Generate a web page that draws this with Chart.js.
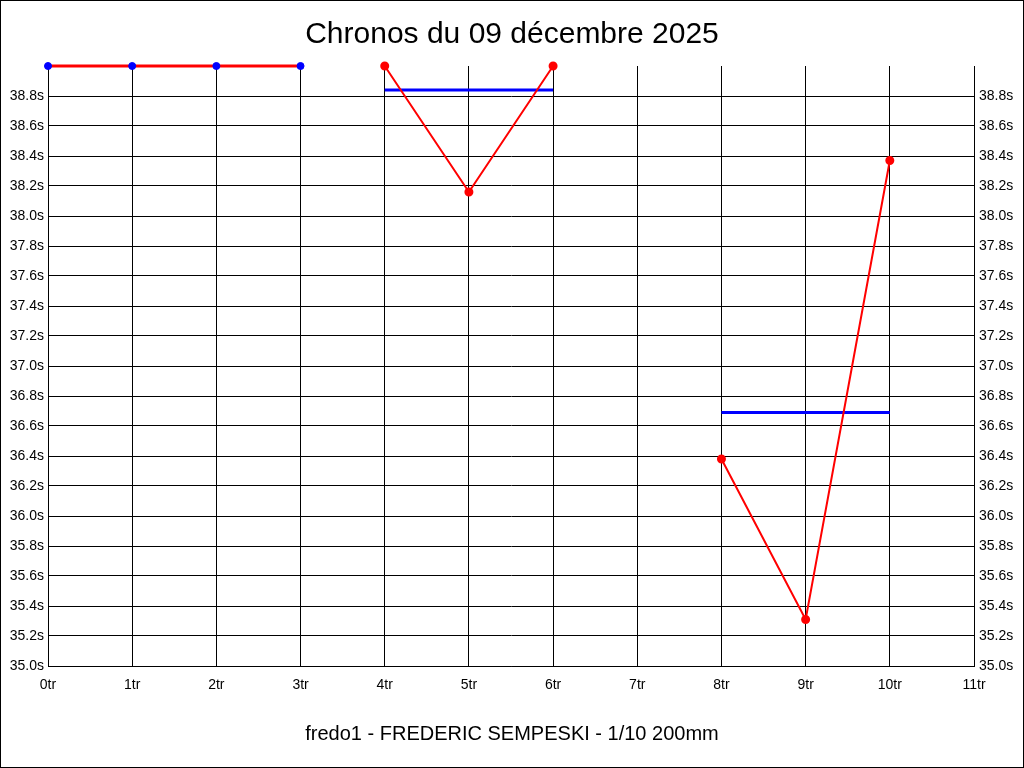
<!DOCTYPE html>
<html>
<head>
<meta charset="utf-8">
<title>Chronos</title>
<script src="https://cdn.jsdelivr.net/npm/chart.js@4.4.0/dist/chart.umd.min.js"></script>
<style>
  html, body { margin: 0; padding: 0; background: #fff; }
  #wrap { width: 1024px; height: 768px; }
</style>
</head>
<body>
<div id="wrap"><canvas id="chart" width="1024" height="768"></canvas></div>
<script>
// tours (x) et temps (y)
const laps1 = [0, 1, 2, 3];
const times1 = [39.0, 39.0, 39.0, 39.0];
const laps2 = [4, 5, 6];
const times2 = [39.0, 38.16, 39.0];
const laps3 = [8, 9, 10];
const times3 = [36.38, 35.31, 38.37];
// moyennes
const avgLaps2 = [4, 6];
const avg2 = [38.84, 38.84];
const avgLaps3 = [8, 10];
const avg3 = [36.69, 36.69];

const titleText = "Chronos du 09 décembre 2025";
const footerText = "fredo1 - FREDERIC SEMPESKI - 1/10 200mm";

const yMin = 35.0, yMax = 39.0, yStep = 0.2;
const xMin = 0, xMax = 11;

const pts = (xs, ys) => xs.map((x, i) => ({ x: x, y: ys[i] }));

const frame = {
  id: "frame",
  beforeDraw(chart) {
    const c = chart.ctx;
    c.save();
    c.fillStyle = "#fff";
    c.fillRect(0, 0, chart.width, chart.height);
    c.restore();
  },
  afterDraw(chart) {
    const c = chart.ctx;
    c.save();
    c.strokeStyle = "#000";
    c.lineWidth = 1;
    c.strokeRect(0.5, 0.5, chart.width - 1, chart.height - 1);
    c.restore();
  }
};

const yLabel = (v) => (v >= yMax - 0.001 ? "" : Number(v).toFixed(1) + "s");
const yGrid = (ctx) => (ctx.tick && ctx.tick.value >= yMax - 0.001 ? "rgba(0,0,0,0)" : "#000");
const tickFont = { family: "'Liberation Sans', Arial, sans-serif", size: 14 };

new Chart(document.getElementById("chart"), {
  type: "line",
  data: {
    datasets: [
      {
        data: pts(laps1, times1),
        borderColor: "#ff0000",
        borderWidth: 3,
        pointRadius: 3.5,
        pointBackgroundColor: "#0000ff",
        pointBorderColor: "#0000ff",
        pointBorderWidth: 1,
        clip: 6
      },
      {
        data: pts(laps2, times2),
        borderColor: "#ff0000",
        borderWidth: 2,
        pointRadius: 3.5,
        pointBackgroundColor: "#ff0000",
        pointBorderColor: "#ff0000",
        clip: 6
      },
      {
        data: pts(laps3, times3),
        borderColor: "#ff0000",
        borderWidth: 2,
        pointRadius: 3.5,
        pointBackgroundColor: "#ff0000",
        pointBorderColor: "#ff0000",
        clip: 6
      },
      {
        data: pts(avgLaps2, avg2),
        borderColor: "#0000ff",
        borderWidth: 3,
        pointRadius: 0
      },
      {
        data: pts(avgLaps3, avg3),
        borderColor: "#0000ff",
        borderWidth: 3,
        pointRadius: 0
      }
    ]
  },
  options: {
    responsive: false,
    animation: false,
    devicePixelRatio: 1,
    layout: { padding: 0 },
    plugins: {
      legend: { display: false },
      tooltip: { enabled: false },
      title: {
        display: true,
        text: titleText,
        color: "#000",
        font: { family: "'Liberation Sans', Arial, sans-serif", size: 30, weight: "normal" },
        padding: { top: 17, bottom: 13 }
      },
      subtitle: {
        display: true,
        position: "bottom",
        text: footerText,
        color: "#000",
        font: { family: "'Liberation Sans', Arial, sans-serif", size: 20, weight: "normal" },
        padding: { top: 16, bottom: 22 }
      }
    },
    scales: {
      x: {
        type: "linear",
        min: xMin,
        max: xMax,
        ticks: {
          stepSize: 1,
          color: "#000",
          font: tickFont,
          padding: 11,
          maxRotation: 0,
          callback: (v) => v + "tr"
        },
        grid: { color: "#000", lineWidth: 1, drawTicks: false },
        border: { display: true, color: "#000" },
        afterFit: (s) => { s.height = 40; }
      },
      y: {
        type: "linear",
        position: "left",
        min: yMin,
        max: yMax,
        ticks: {
          stepSize: yStep,
          color: "#000",
          font: tickFont,
          padding: 4,
          callback: yLabel
        },
        grid: { color: yGrid, lineWidth: 1, drawTicks: false },
        border: { display: true, color: "#000" },
        afterFit: (s) => { s.width = 48; }
      },
      y2: {
        type: "linear",
        position: "right",
        min: yMin,
        max: yMax,
        ticks: {
          stepSize: yStep,
          color: "#000",
          font: tickFont,
          padding: 5,
          callback: yLabel
        },
        grid: { display: false, drawTicks: false },
        border: { display: true, color: "#000" },
        afterFit: (s) => { s.width = 50; }
      }
    }
  },
  plugins: [frame]
});
</script>
</body>
</html>
